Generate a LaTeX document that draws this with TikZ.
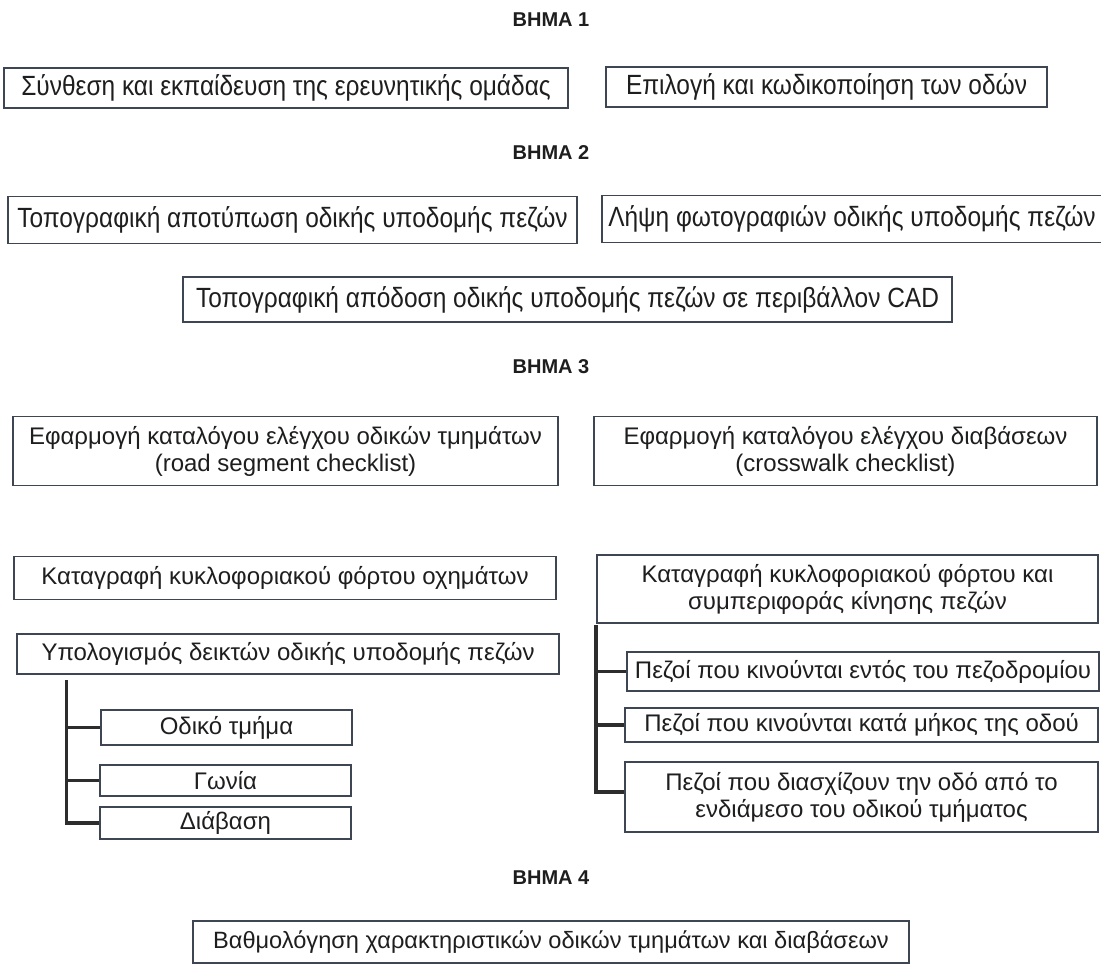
\documentclass[tikz,border=0pt]{standalone}
\usepackage{fontspec}
\setmainfont{Liberation Sans}
\newfontfamily\condfont[FakeStretch=0.88]{Liberation Sans}
\definecolor{boxcol}{RGB}{62,70,84}
\definecolor{txtcol}{RGB}{30,30,30}
\definecolor{treecol}{RGB}{45,45,45}
\begin{document}
\begin{tikzpicture}[x=1pt,y=-1pt,
  box/.style={draw=boxcol, line width=1.3pt, fill=white, inner sep=0pt, align=center,
    text=txtcol, font=\fontsize{24}{27}\selectfont},
  cbox/.style={box, font=\condfont\fontsize{27.8}{30}\selectfont},
  steplabel/.style={font=\bfseries\fontsize{20}{22}\selectfont, text=txtcol, inner sep=0pt},
  tree/.style={draw=treecol, line width=3.8pt}]
\useasboundingbox[fill=white] (0,0) rectangle (1101,974);

\node[steplabel] (h1) at (551,20) {ΒΗΜΑ 1};
\node[cbox, minimum width=564, minimum height=40] (a) at (286,88) {Σύνθεση και εκπαίδευση της ερευνητικής ομάδας};
\node[cbox, minimum width=441, minimum height=40] (b) at (826.5,87) {Επιλογή και κωδικοποίηση των οδών};

\node[steplabel] (h2) at (551,153) {ΒΗΜΑ 2};
\node[cbox, minimum width=569, minimum height=47] (c) at (292.5,220) {Τοπογραφική αποτύπωση οδικής υποδομής πεζών};
\node[cbox, minimum width=520, minimum height=47] (d) at (862,219) {\hspace*{-20pt}Λήψη φωτογραφιών οδικής υποδομής πεζών};
\node[cbox, minimum width=769, minimum height=45] (e) at (567.5,299.5) {Τοπογραφική απόδοση οδικής υποδομής πεζών σε περιβάλλον CAD};

\node[steplabel] (h3) at (551,367) {ΒΗΜΑ 3};
\node[box, minimum width=545, minimum height=69] (f) at (285.5,451) {Εφαρμογή καταλόγου ελέγχου οδικών τμημάτων\\(road segment checklist)};
\node[box, minimum width=503, minimum height=69] (g) at (845.5,451) {Εφαρμογή καταλόγου ελέγχου διαβάσεων\\(crosswalk checklist)};

\node[box, minimum width=542, minimum height=43] (h) at (285,578) {Καταγραφή κυκλοφοριακού φόρτου οχημάτων};
\node[box, minimum width=501, minimum height=68] (i) at (847.5,589) {Καταγραφή κυκλοφοριακού φόρτου και\\συμπεριφοράς κίνησης πεζών};
\node[box, minimum width=542, minimum height=40] (j) at (288,654) {Υπολογισμός δεικτών οδικής υποδομής πεζών};

\node[box, minimum width=251, minimum height=35] (k) at (226.5,727.5) {Οδικό τμήμα};
\node[box, minimum width=251, minimum height=31] (l) at (225.5,780.5) {Γωνία};
\node[box, minimum width=251, minimum height=32] (m) at (225.5,823) {Διάβαση};

\node[box, minimum width=472, minimum height=39] (n) at (863,671.5) {Πεζοί που κινούνται εντός του πεζοδρομίου};
\node[box, minimum width=473, minimum height=34] (o) at (861.5,725) {Πεζοί που κινούνται κατά μήκος της οδού};
\node[box, minimum width=473, minimum height=70] (p) at (861.5,797) {Πεζοί που διασχίζουν την οδό από το\\ενδιάμεσο του οδικού τμήματος};

\node[steplabel] (h4) at (551,878) {ΒΗΜΑ 4};
\node[box, font=\fontsize{23.6}{26}\selectfont, minimum width=716, minimum height=42] (q) at (551,942) {Βαθμολόγηση χαρακτηριστικών οδικών τμημάτων και διαβάσεων};

% left tree
\coordinate (lt) at (66.5,680);
\draw[tree] (lt) |- (m.west);
\draw[tree] (lt |- k.west) -- (k.west);
\draw[tree] (lt |- l.west) -- (l.west);

% right tree
\coordinate (rt) at (596,625);
\draw[tree] (rt) |- ([yshift=5pt]p.west);
\draw[tree] (rt |- n.west) -- (n.west);
\draw[tree] (rt |- o.west) -- (o.west);
\end{tikzpicture}
\end{document}
